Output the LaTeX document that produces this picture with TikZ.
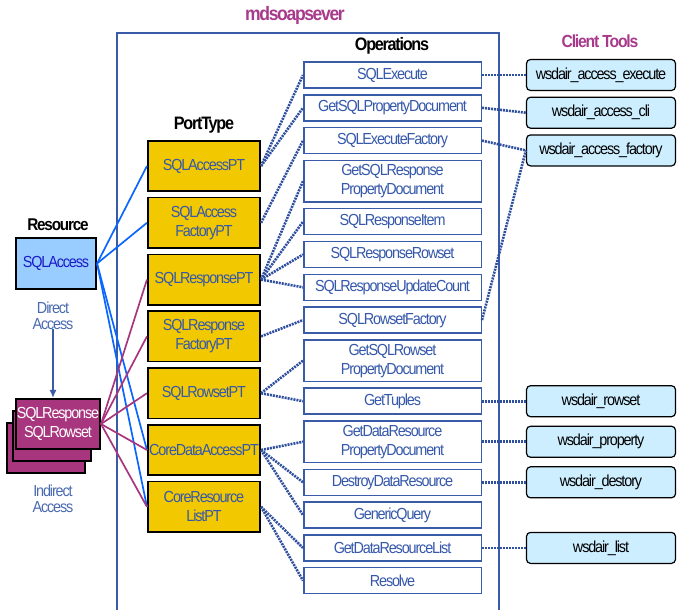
\documentclass[tikz,border=0pt]{standalone}
\usepackage{fontspec}
\setmainfont{Liberation Sans}[FakeStretch=0.9, LetterSpace=-7]
\usetikzlibrary{arrows.meta, positioning}

\definecolor{srvblue}{HTML}{3A5BA8}
\definecolor{optext}{HTML}{3558AA}
\definecolor{ptgold}{HTML}{F2C800}
\definecolor{resblue}{HTML}{99CCFF}
\definecolor{resdark}{HTML}{1B1BC8}
\definecolor{respmag}{HTML}{A8367F}
\definecolor{titlemag}{HTML}{A83A8C}
\definecolor{toolfill}{HTML}{CCEEFF}
\definecolor{linkblue}{HTML}{0A66FF}
\definecolor{dotblue}{HTML}{2E4E9E}
\definecolor{noteblue}{HTML}{4A6AB0}

\begin{document}
\begin{tikzpicture}[
    x=1pt, y=-1pt,
    node distance=5.3pt,
    font=\fontsize{16}{19}\selectfont,
    op/.style={draw=srvblue, line width=1.5pt, fill=white, text=optext, align=center, minimum width=177.5pt, minimum height=26pt, inner sep=1pt},
    opdouble/.style={op, minimum height=41.5pt},
    pt/.style={draw=black, line width=1.6pt, fill=ptgold, text=optext, align=center, minimum width=112.5pt, minimum height=50.5pt, inner sep=1pt},
    tool/.style={draw=black, line width=1.2pt, rounded corners=4pt, fill=toolfill, minimum width=149pt, minimum height=31pt, inner sep=1pt},
    title/.style={font=\fontsize{18}{21}\selectfont\bfseries},
    respbox/.style={draw=black, line width=1.6pt, fill=respmag, text=white, align=center, minimum width=78.5pt, minimum height=50.5pt, inner sep=1pt},
    note/.style={text=noteblue, align=center, inner sep=1pt, font=\fontsize{16}{16.5}\selectfont},
    directlink/.style={linkblue, line width=1.7pt},
    indirectlink/.style={respmag, line width=1.7pt},
    oplink/.style={dotblue, line width=2.6pt, dash pattern=on 2pt off 1pt}
]
\useasboundingbox (0,0) rectangle (677,610);

% server frame, open at the bottom
\draw[srvblue, line width=1.8pt] (117,615) |- (499,33) -- (499,615);

% titles
\node[title, text=titlemag, font=\fontsize{19.5}{22}\selectfont\bfseries] (server) at (295,15) {mdsoapsever};
\node[title] (ops) at (392,46) {Operations};
\node[title, text=titlemag, font=\fontsize{17.5}{21}\selectfont\bfseries] (tools) at (600,41) {Client Tools};
\node[title] (porttype) at (204,125) {PortType};
\node[title, font=\fontsize{17}{21}\selectfont\bfseries] (resource) at (58,225) {Resource};

% resources
\node[draw=black, line width=1.6pt, fill=resblue, text=resdark, minimum width=80.5pt, minimum height=51pt] (sqlaccess) at (56,263.5) {SQLAccess};
\node[note] (direct) at (53,316) {Direct\\Access};
\node[respbox] (respBack) at (46,448) {};
\node[respbox] (respMid) at (52,436) {};
\node[respbox] (resp) at (58,424) {SQLResponse\\SQLRowset};
\node[note] (indirect) at (53,499) {Indirect\\Access};
\draw[-{Latex[length=8pt,width=7pt]}, srvblue, line width=1.5pt] ([yshift=2pt]direct.south) -- (direct.south |- resp.north);

% port types
\node[pt] (ptAccess) at (204,166) {SQLAccessPT};
\node[pt, below=4.7pt of ptAccess] (ptAccessFac) {SQLAccess\\FactoryPT};
\node[pt, below=4.7pt of ptAccessFac] (ptResp) {SQLResponsePT};
\node[pt, below=4.7pt of ptResp] (ptRespFac) {SQLResponse\\FactoryPT};
\node[pt, below=4.7pt of ptRespFac] (ptRowset) {SQLRowsetPT};
\node[pt, below=4.7pt of ptRowset] (ptCoreData) {CoreDataAccessPT};
\node[pt, below=4.7pt of ptCoreData] (ptCoreList) {CoreResource\\ListPT};

% operations
\node[op] (opExec) at (392.5,75) {SQLExecute};
\node[op, below=of opExec] (opSQLProp) {GetSQLPropertyDocument};
\node[op, below=of opSQLProp] (opExecFac) {SQLExecuteFactory};
\node[opdouble, below=of opExecFac] (opRespProp) {GetSQLResponse\\PropertyDocument};
\node[op, below=of opRespProp] (opRespItem) {SQLResponseItem};
\node[op, below=of opRespItem] (opRespRowset) {SQLResponseRowset};
\node[op, below=of opRespRowset] (opRespCount) {SQLResponseUpdateCount};
\node[op, below=of opRespCount] (opRowsetFac) {SQLRowsetFactory};
\node[opdouble, below=of opRowsetFac] (opRowsetProp) {GetSQLRowset\\PropertyDocument};
\node[op, below=of opRowsetProp] (opTuples) {GetTuples};
\node[opdouble, below=of opTuples] (opDataProp) {GetDataResource\\PropertyDocument};
\node[op, below=of opDataProp] (opDestroy) {DestroyDataResource};
\node[op, below=of opDestroy] (opQuery) {GenericQuery};
\node[op, below=of opQuery] (opResList) {GetDataResourceList};
\node[op, below=of opResList] (opResolve) {Resolve};

% client tools
\node[tool] (ctExec) at (601,75) {wsdair\_access\_execute};
\node[tool, below=5.5pt of ctExec] (ctCli) {wsdair\_access\_cli};
\node[tool, below=5.5pt of ctCli] (ctFac) {wsdair\_access\_factory};
\node[tool] (ctRowset) at (ctExec |- opTuples) {wsdair\_rowset};
\node[tool] (ctProp) at (ctExec |- opDataProp) {wsdair\_property};
\node[tool] (ctDestroy) at (ctExec |- opDestroy) {wsdair\_destory};
\node[tool] (ctList) at (ctExec |- opResList) {wsdair\_list};

% resource to port type
\draw[directlink] (sqlaccess.east) -- (ptAccess.west);
\draw[directlink] (sqlaccess.east) -- (ptAccessFac.west);
\draw[directlink] (sqlaccess.east) -- (ptCoreData.west);
\draw[directlink] (sqlaccess.east) -- (ptCoreList.west);
\draw[indirectlink] (resp.east) -- (ptResp.west);
\draw[indirectlink] (resp.east) -- (ptRespFac.west);
\draw[indirectlink] (resp.east) -- (ptRowset.west);
\draw[indirectlink] (resp.east) -- (ptCoreData.west);
\draw[indirectlink] (resp.east) -- (ptCoreList.west);

% port type to operations
\draw[oplink] (ptAccess.east) -- (opExec.west);
\draw[oplink] (ptAccess.east) -- (opSQLProp.west);
\draw[oplink] (ptAccessFac.east) -- (opExecFac.west);
\draw[oplink] (ptResp.east) -- (opRespProp.west);
\draw[oplink] (ptResp.east) -- (opRespItem.west);
\draw[oplink] (ptResp.east) -- (opRespRowset.west);
\draw[oplink] (ptResp.east) -- (opRespCount.west);
\draw[oplink] (ptRespFac.east) -- (opRowsetFac.west);
\draw[oplink] (ptRowset.east) -- (opRowsetProp.west);
\draw[oplink] (ptRowset.east) -- (opTuples.west);
\draw[oplink] (ptCoreData.east) -- (opDataProp.west);
\draw[oplink] (ptCoreData.east) -- (opDestroy.west);
\draw[oplink] (ptCoreData.east) -- (opQuery.west);
\draw[oplink] (ptCoreList.east) -- (opResList.west);
\draw[oplink] (ptCoreList.east) -- (opResolve.west);

% operations to client tools
\draw[oplink] (opExec.east) -- (ctExec.west);
\draw[oplink] (opSQLProp.east) -- (ctCli.west);
\draw[oplink] (opExecFac.east) -- (ctFac.west);
\draw[oplink] (opRowsetFac.east) -- (ctFac.west);
\draw[oplink] (opTuples.east) -- (ctRowset.west);
\draw[oplink] (opDataProp.east) -- (ctProp.west);
\draw[oplink] (opDestroy.east) -- (ctDestroy.west);
\draw[oplink] (opResList.east) -- (ctList.west);
\end{tikzpicture}
\end{document}
